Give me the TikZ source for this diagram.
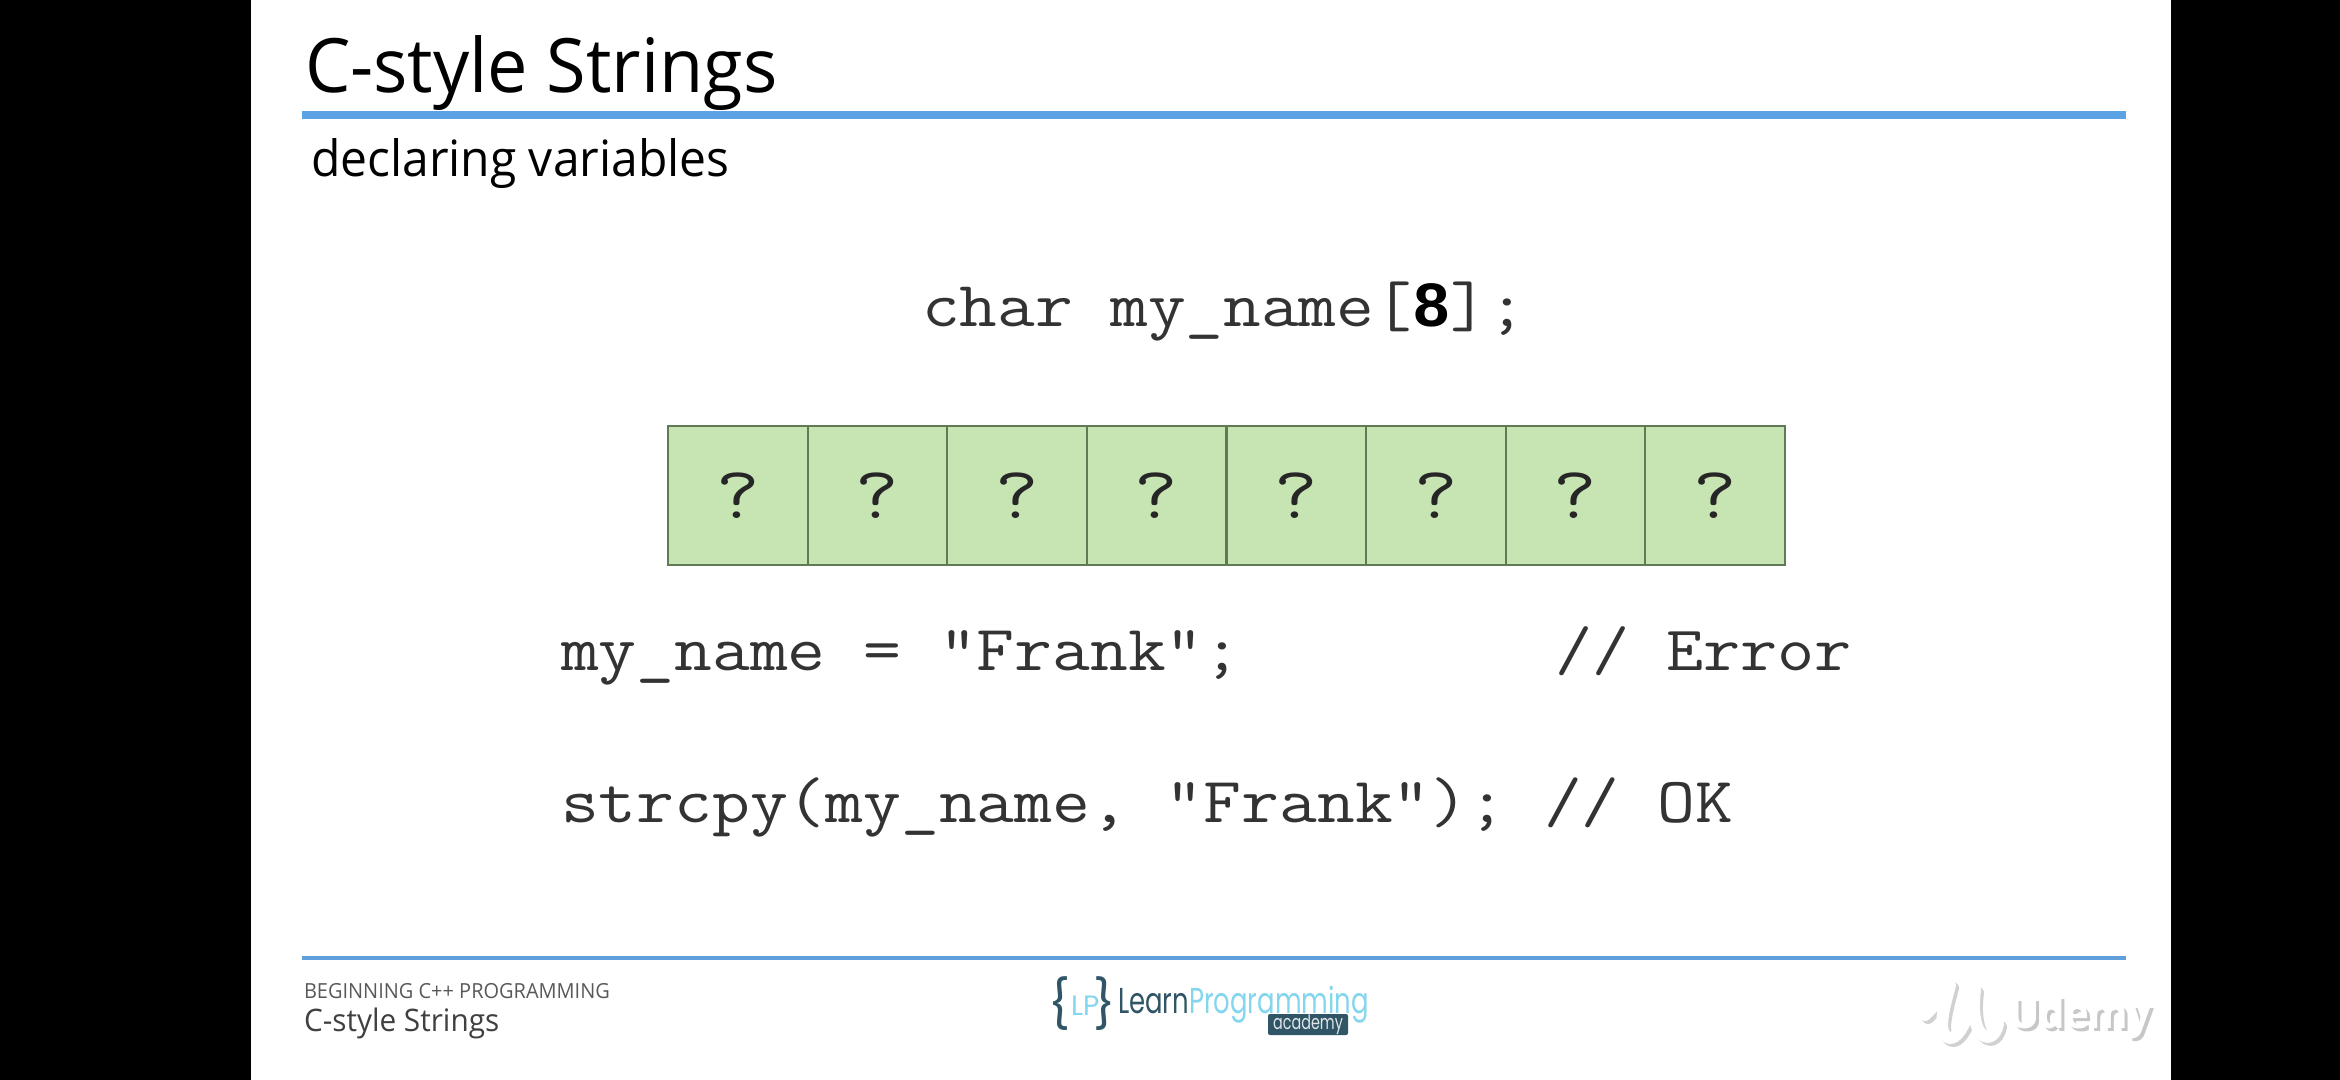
\documentclass[tikz,border=0pt]{standalone}
\usepackage{fontspec}
\setmainfont[FakeStretch=0.96]{Open Sans}
\newfontfamily\codefont[FakeStretch=1.14]{Latin Modern Mono}
\newfontfamily\boldcode{Liberation Mono}
\newfontfamily\logofont[FakeStretch=0.72]{Poppins}
\newfontfamily\bracefont{Poppins}
\usetikzlibrary{positioning}
\definecolor{rulebar}{HTML}{5CA3E6}
\definecolor{cellfill}{HTML}{C6E5B3}
\definecolor{celledge}{HTML}{5F7A55}
\definecolor{logodark}{HTML}{2F5566}
\definecolor{logolight}{HTML}{84D6EE}
\tikzset{
  txt/.style={anchor=base west, inner sep=0pt, outer sep=0pt},
  code/.style={txt, text=black!80, font=\fontsize{#1}{#1}\selectfont\codefont},
  cell/.style={draw=celledge, line width=1.1pt, fill=cellfill, minimum size=69.8pt, inner sep=0pt, outer sep=0pt, text=black!85, font=\fontsize{37}{37}\selectfont\codefont},
  logo/.style={txt, font=\fontsize{#1}{#1}\selectfont\logofont},
  brace/.style={txt, text=logodark, font=\fontsize{24}{24}\selectfont\bracefont},
}
\begin{document}
\begin{tikzpicture}[x=0.5pt, y=-0.5pt]
  % page and black bars
  \fill[black] (0,0) rectangle (2340,1080);
  \fill[white] (251,0) rectangle (2171,1080);
  \useasboundingbox (0,0) rectangle (2340,1080);

  % heading
  \node[txt, font=\fontsize{37.5}{37.5}\selectfont] (title) at (305,93) {C-style Strings};
  \coordinate (ruleL) at (302,115);
  \coordinate (ruleR) at (2126,115);
  \draw[rulebar, line width=4pt] (ruleL) -- (ruleR);
  \node[txt, font=\fontsize{25}{25}\selectfont] (subtitle) at (311,177) {declaring variables};

  % declaration
  \node[code=32.1] (decl) at (922,327) {char my\_name[{\boldcode\bfseries\color{black}8}];};

  % the eight cells
  \node[cell] (c1) at (737.8,495.5) {?};
  \foreach \i [count=\j from 2] in {1,...,7}
    \node[cell, right=0pt of c\i] (c\j) {?};

  % assignments
  \node[code=32.2] (assign) at (561,670) {my\_name = "Frank";};
  \node[code=31.6] (err) at (1555,670) {// Error};
  \node[code=32.2] (copy) at (561,822) {strcpy(my\_name, "Frank"); // OK};

  % footer
  \coordinate (footL) at (302,958);
  \coordinate (footR) at (2126,958);
  \draw[rulebar!90!gray, line width=2pt] (footL) -- (footR);
  \node[txt, text=black!65, font=\fontsize{10.4}{10.4}\selectfont] (course) at (304,998) {BEGINNING C++ PROGRAMMING};
  \node[txt, text=black!75, font=\fontsize{15.5}{15.5}\selectfont] (lesson) at (304,1031) {C-style Strings};

  % logo
  \node[brace] (lbrace) at (1048,1021) {\{};
  \node[txt, text=logolight, font=\fontsize{14}{14}\selectfont\bracefont] (lp) at (1071,1015) {LP};
  \node[brace] (rbrace) at (1093,1021) {\}};
  \node[logo=18, text=logodark] (learn) at (1118,1013) {Learn};
  \node[logo=18, text=logolight, right=0pt of learn.base east, anchor=base west] (prog) {Programming};
  \node[fill=logodark, rounded corners=1pt, text=white!85!logodark, font=\fontsize{10}{10}\selectfont\logofont, minimum width=40pt, minimum height=10.5pt, inner sep=0pt] (acad) at (1308,1024.5) {academy};

  % udemy mark
  \node[txt, text=black!22, font=\fontsize{21}{21}\selectfont\bfseries] (udemyS) at (2012,1031) {Udemy};
  \node[txt, text=white, font=\fontsize{21}{21}\selectfont\bfseries] (udemy) at (2009,1028) {Udemy};
  \foreach \col/\dx in {black!18/3, white/0}
    \draw[\col, line width=6pt, line cap=round, line join=round, xshift=\dx*0.5pt, yshift=-\dx*0.5pt]
      (1925,1015) .. controls (1935,1005) and (1950,990) .. (1950,985)
      .. controls (1945,1005) and (1935,1035) .. (1950,1038)
      .. controls (1962,1038) and (1972,1005) .. (1975,990)
      .. controls (1972,1010) and (1975,1037) .. (1988,1037)
      .. controls (1993,1037) and (1997,1030) .. (1998,1024);
\end{tikzpicture}
\end{document}
